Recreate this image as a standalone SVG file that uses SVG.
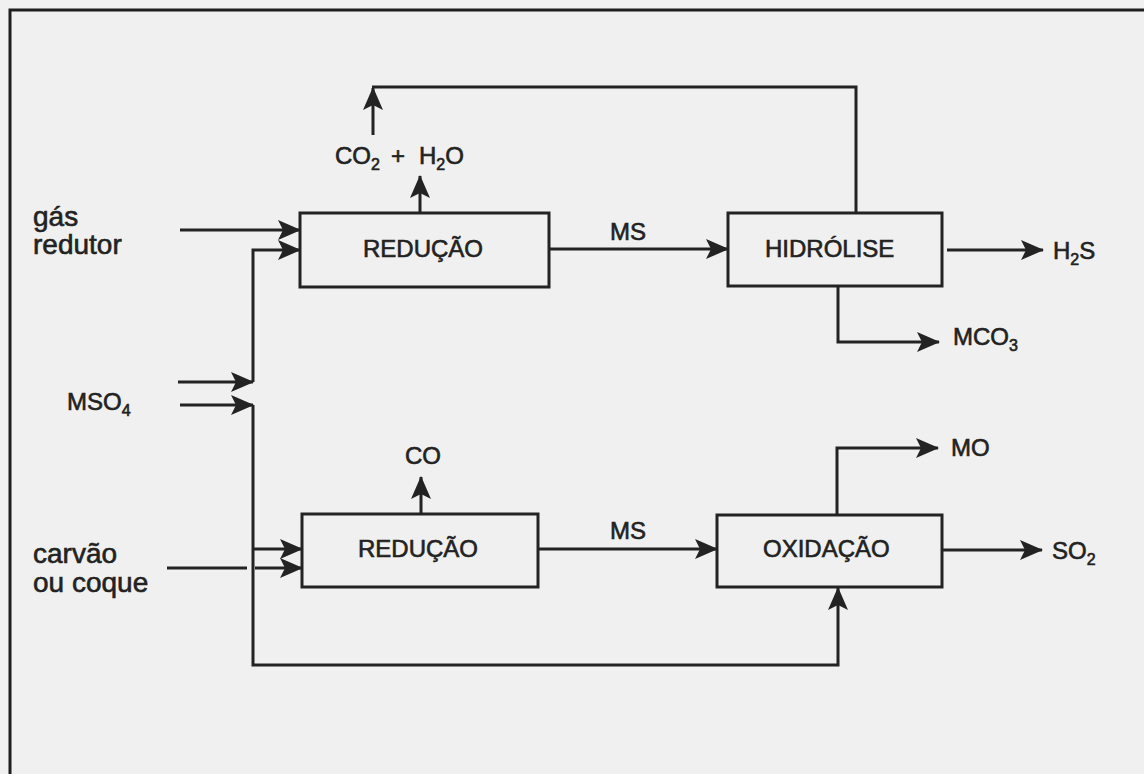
<svg xmlns="http://www.w3.org/2000/svg" width="1144" height="774" viewBox="0 0 1144 774">
<style>
.bg{fill:#f0f0f0}
.frame{fill:none;stroke:#1e1e1e;stroke-width:3}
.box{fill:none;stroke:#232323;stroke-width:3}
.ln{fill:none;stroke:#232323;stroke-width:3}
.t{font-family:"Liberation Sans",Arial,Helvetica,sans-serif;font-size:24px;fill:#222;stroke:#222;stroke-width:0.6}
.tl{font-family:"Liberation Sans",Arial,Helvetica,sans-serif;font-size:28px;fill:#222;stroke:#222;stroke-width:0.6}
.sub{font-size:16px}
</style>
<defs>
<marker id="ah" markerUnits="userSpaceOnUse" markerWidth="23" markerHeight="20" refX="22" refY="10" orient="auto">
<path d="M0,0 L23,10 L0,20 L5,10 z" fill="#232323"/>
</marker>
</defs>
<rect class="bg" x="0" y="0" width="1144" height="774"/>
<path class="frame" d="M10,774 L10,10 L1144,10"/>

<g id="reducao1">
<rect class="box" x="300" y="213" width="249" height="74"/>
<text class="t" x="363" y="257">REDUÇÃO</text>
</g>
<g id="hidrolise">
<rect class="box" x="728" y="213" width="214" height="73"/>
<text class="t" x="765" y="257">HIDRÓLISE</text>
</g>
<g id="reducao2">
<rect class="box" x="302" y="514" width="236" height="73"/>
<text class="t" x="358" y="557">REDUÇÃO</text>
</g>
<g id="oxidacao">
<rect class="box" x="717" y="515" width="225" height="72"/>
<text class="t" x="763" y="557">OXIDAÇÃO</text>
</g>

<g id="labels">
<text class="t" x="335" y="164">CO<tspan class="sub" dy="6">2</tspan><tspan dy="-6" x="391">+</tspan><tspan x="419">H</tspan><tspan class="sub" dy="6">2</tspan><tspan dy="-6">O</tspan></text>
<text class="tl" x="33" y="226">gás</text>
<text class="tl" x="33" y="254">redutor</text>
<text class="t" x="67" y="410">MSO<tspan class="sub" dy="6">4</tspan></text>
<text class="tl" x="33" y="563">carvão</text>
<text class="tl" x="33" y="592">ou coque</text>
<text class="t" x="610" y="240">MS</text>
<text class="t" x="610" y="539">MS</text>
<text class="t" x="405" y="464">CO</text>
<text class="t" x="1053" y="259">H<tspan class="sub" dy="6">2</tspan><tspan dy="-6">S</tspan></text>
<text class="t" x="953" y="345">MCO<tspan class="sub" dy="6">3</tspan></text>
<text class="t" x="951" y="456">MO</text>
<text class="t" x="1052" y="559">SO<tspan class="sub" dy="6">2</tspan></text>
</g>

<g id="connectors">
<path class="ln" d="M856,213 L856,87 L372,87"/>
<path class="ln" d="M373,135 L373,88" marker-end="url(#ah)"/>
<path class="ln" d="M420,213 L420,176" marker-end="url(#ah)"/>
<path class="ln" d="M180,230 L300,230" marker-end="url(#ah)"/>
<path class="ln" d="M253,382 L253,250 L300,250" marker-end="url(#ah)"/>
<path class="ln" d="M178,382 L253,382" marker-end="url(#ah)"/>
<path class="ln" d="M180,405 L253,405" marker-end="url(#ah)"/>
<path class="ln" d="M253,405 L253,665 L838,665 L838,588" marker-end="url(#ah)"/>
<path class="ln" d="M253,549 L302,549" marker-end="url(#ah)"/>
<path class="ln" d="M167,568 L247,568"/>
<path class="ln" d="M255,568 L302,568" marker-end="url(#ah)"/>
<path class="ln" d="M549,249 L728,249" marker-end="url(#ah)"/>
<path class="ln" d="M947,250 L1043,250" marker-end="url(#ah)"/>
<path class="ln" d="M838,286 L838,342 L939,342" marker-end="url(#ah)"/>
<path class="ln" d="M421,514 L421,477" marker-end="url(#ah)"/>
<path class="ln" d="M538,549 L717,549" marker-end="url(#ah)"/>
<path class="ln" d="M942,550 L1042,550" marker-end="url(#ah)"/>
<path class="ln" d="M837,515 L837,448 L938,448" marker-end="url(#ah)"/>
</g>
</svg>
